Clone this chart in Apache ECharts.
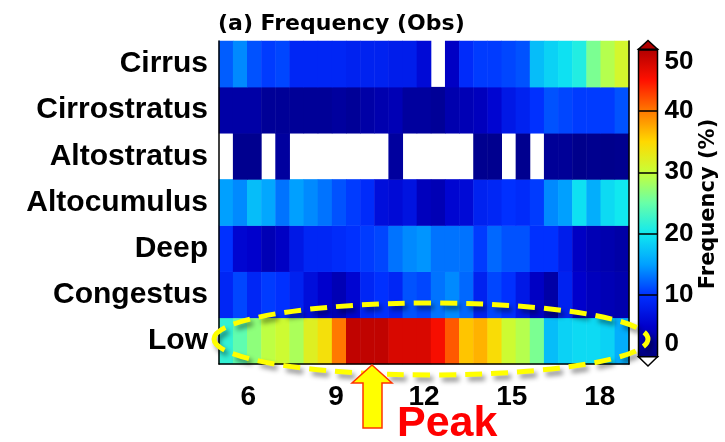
<!DOCTYPE html>
<html>
<head>
<meta charset="utf-8">
<script src="https://cdn.jsdelivr.net/npm/echarts@6/dist/echarts.min.js"></script>
<style>
  html, body { margin: 0; padding: 0; background: #fff; }
  #chart { width: 725px; height: 442px; }
</style>
</head>
<body>
<div id="chart"></div>
<script>
  // 29 time bins across 05-19 LT
  var hours = ['5.0', '5.5', '6.0', '6.5', '7.0', '7.5', '8.0', '8.5', '9.0', '9.5',
    '10.0', '10.5', '11.0', '11.5', '12.0', '12.5', '13.0', '13.5', '14.0', '14.5',
    '15.0', '15.5', '16.0', '16.5', '17.0', '17.5', '18.0', '18.5', '19.0'];
  var cloudTypes = ['Low', 'Congestus', 'Deep', 'Altocumulus', 'Altostratus', 'Cirrostratus', 'Cirrus'];
  var hourTicks = [6, 9, 12, 15, 18];

  // frequency (%), null = no sample
  var low = [22, 24.5, 27, 29.5, 30.5, 28.5, 32, 34, 40, 49, 49, 49, 47.5, 47.5, 47.5,
    45.5, 41.5, 36, 37, 34.5, 30.5, 29, 26, 17, 18.5, 19, 19, 18.5, 16];
  var congestus = [9, 11, 9, 10.5, 10, 8.5, 6.5, 5, 3.5, 5.5, 9, 10, 9, 11.5, 11,
    13, 14, 12.5, 8.5, 11, 10, 7.5, 4.5, 2.5, 8.5, 5, 4, 3.5, 3];
  var deep = [10, 5.5, 5, 3.5, 4.5, 7.5, 9, 9, 9.5, 10, 10.5, 11, 13, 14, 14.5,
    13, 13, 13, 10.5, 12.5, 11.5, 11.5, 10, 10, 8, 4.5, 3.5, 3, 2.5];
  var altocumulus = [15, 14, 17, 15.5, 13, 15, 14, 13, 11.5, 10.5, 9.5, 6.5, 6, 7, 4,
    3.5, 5.5, 6, 8.5, 9, 10, 9.5, 10.5, 14, 15, 19.5, 16, 19, 20];
  var altostratus = [null, 1, 1, null, 2, null, null, null, null, null, null, null, 2, null, null,
    null, null, null, 1, 1, null, 1, null, 1.5, 1.5, 0.8, 1, 0.8, 1];
  var cirrostratus = [2.5, 2.5, 2.5, 1.5, 1.5, 1.5, 1.5, 1.5, 2, 1.5, 2.5, 3, 3.5, 2, 2,
    1.5, 3, 3.5, 4, 5.5, 7.5, 8.5, 10, 11.5, 11, 10.5, 10.5, 10.5, 11.5];
  var cirrus = [12, 14, 11.5, 10.5, 11, 9, 9, 9, 9, 8.5, 8.5, 8.5, 8, 8, 6,
    null, 4.5, 9.5, 10.5, 10.5, 11, 11.5, 17, 18.5, 19.5, 21, 26, 29, 31];

  var rows = [low, congestus, deep, altocumulus, altostratus, cirrostratus, cirrus];
  var heat = [];
  rows.forEach(function (r, j) {
    r.forEach(function (v, i) {
      heat.push([i, j, v == null ? '-' : v]);
    });
  });

  var bold = 'Liberation Sans';
  var wide = 'DejaVu Sans';

  var chart = echarts.init(document.getElementById('chart'));
  chart.setOption({
    animation: false,
    backgroundColor: '#fff',
    grid: [
      { left: 219, top: 41, width: 410, height: 323 },
      { left: 638.5, top: 49.3, width: 19, height: 307.4, show: true, borderColor: '#000', borderWidth: 1.5, z: 10 }
    ],
    xAxis: [
      { type: 'category', data: hours, gridIndex: 0, position: 'bottom', z: 5,
        axisLine: { lineStyle: { color: '#000', width: 1.5 } },
        axisTick: { show: false }, axisLabel: { show: false }, splitLine: { show: false } },
      { type: 'value', gridIndex: 0, min: 5, max: 19, interval: 1, position: 'bottom', z: 5,
        axisLine: { show: false },
        axisTick: { inside: true, length: 6, lineStyle: { color: '#000', width: 1.5 } },
        axisLabel: { margin: 19, color: '#000', fontFamily: bold, fontWeight: 'bold', fontSize: 28,
          formatter: function (v) { return hourTicks.indexOf(v) >= 0 ? String(v) : ''; } },
        splitLine: { show: false } },
      { type: 'value', gridIndex: 0, min: 5, max: 19, interval: 1, position: 'top', z: 5,
        axisLine: { lineStyle: { color: '#000', width: 1.5 } },
        axisTick: { inside: true, length: 6, lineStyle: { color: '#000', width: 1.5 } },
        axisLabel: { show: false }, splitLine: { show: false } },
      { type: 'value', gridIndex: 1, min: 0, max: 1, show: false }
    ],
    yAxis: [
      { type: 'category', data: cloudTypes, gridIndex: 0, position: 'left', z: 5,
        axisLine: { lineStyle: { color: '#000', width: 1.5 } },
        axisTick: { inside: true, alignWithLabel: true, length: 7, lineStyle: { color: '#000', width: 1.5 } },
        axisLabel: { margin: 11, color: '#000', fontFamily: bold, fontWeight: 'bold', fontSize: 30 },
        splitLine: { show: false } },
      { type: 'category', data: cloudTypes, gridIndex: 0, position: 'right', z: 5,
        axisLine: { lineStyle: { color: '#000', width: 1.5 } },
        axisTick: { inside: true, alignWithLabel: true, length: 7, lineStyle: { color: '#000', width: 1.5 } },
        axisLabel: { show: false }, splitLine: { show: false } },
      { type: 'value', gridIndex: 1, min: 0, max: 50, interval: 10, position: 'right', z: 10,
        axisLine: { show: false }, axisTick: { show: false },
        axisLabel: { margin: 7, color: '#000', fontFamily: bold, fontWeight: 'bold', fontSize: 26,
          verticalAlignMinLabel: 'bottom', verticalAlignMaxLabel: 'top' },
        splitLine: { show: true, lineStyle: { color: '#000', width: 1.5 } } }
    ],
    visualMap: {
      type: 'continuous', min: 0, max: 50, seriesIndex: 0, calculable: false, hoverLink: false,
      orient: 'vertical', left: 638.5, top: 49.3, itemWidth: 19, itemHeight: 307.4, padding: 0,
      text: ['', ''], showLabel: false,
      inRange: { color: ['#000080', '#0000cc', '#0030ff', '#00a0ff', '#10e8f0', '#68ffa8',
        '#c8ff38', '#ffd800', '#ff7800', '#ff1000', '#b00000'] }
    },
    series: [{
      type: 'heatmap', xAxisIndex: 0, yAxisIndex: 0, data: heat,
      itemStyle: { borderWidth: 0 },
      emphasis: { disabled: true }
    }],
    graphic: [
      { type: 'text', left: 218, top: 13, z: 50,
        style: { text: '(a) Frequency (Obs)', fontFamily: wide, fontWeight: 'bold', fontSize: 22, fill: '#000' } },
      { type: 'text', x: 709, y: 204, rotation: Math.PI / 2, z: 50,
        style: { text: 'Frequency (%)', fontFamily: wide, fontWeight: 'bold', fontSize: 21, fill: '#000',
          align: 'center', verticalAlign: 'middle' } },
      { type: 'polygon', z: 50,
        shape: { points: [[638.5, 49.3], [657.5, 49.3], [648, 40.5]] },
        style: { fill: '#b00000', stroke: '#000', lineWidth: 1.5 } },
      { type: 'polygon', z: 50,
        shape: { points: [[638.5, 356.7], [657.5, 356.7], [648, 366]] },
        style: { fill: '#fff', stroke: '#000', lineWidth: 1.5 } },
      { type: 'ellipse', z: 60,
        shape: { cx: 431, cy: 339, rx: 217, ry: 36 },
        style: { fill: 'none', stroke: '#ffff00', lineWidth: 5, lineDash: [17, 9],
          shadowBlur: 5, shadowOffsetX: 3, shadowOffsetY: 4, shadowColor: 'rgba(0,0,0,0.45)' } },
      { type: 'polygon', z: 60,
        shape: { points: [[372, 365], [392, 383], [382, 383], [382, 428], [363, 428], [363, 383], [352, 383]] },
        style: { fill: '#ffff00', stroke: '#ff3300', lineWidth: 1.5 } },
      { type: 'text', x: 397, y: 424, z: 60,
        style: { text: 'Peak', fontFamily: bold, fontWeight: 'bold', fontSize: 43, fill: '#ff0000',
          align: 'left', verticalAlign: 'middle' } }
    ]
  });
</script>
</body>
</html>
